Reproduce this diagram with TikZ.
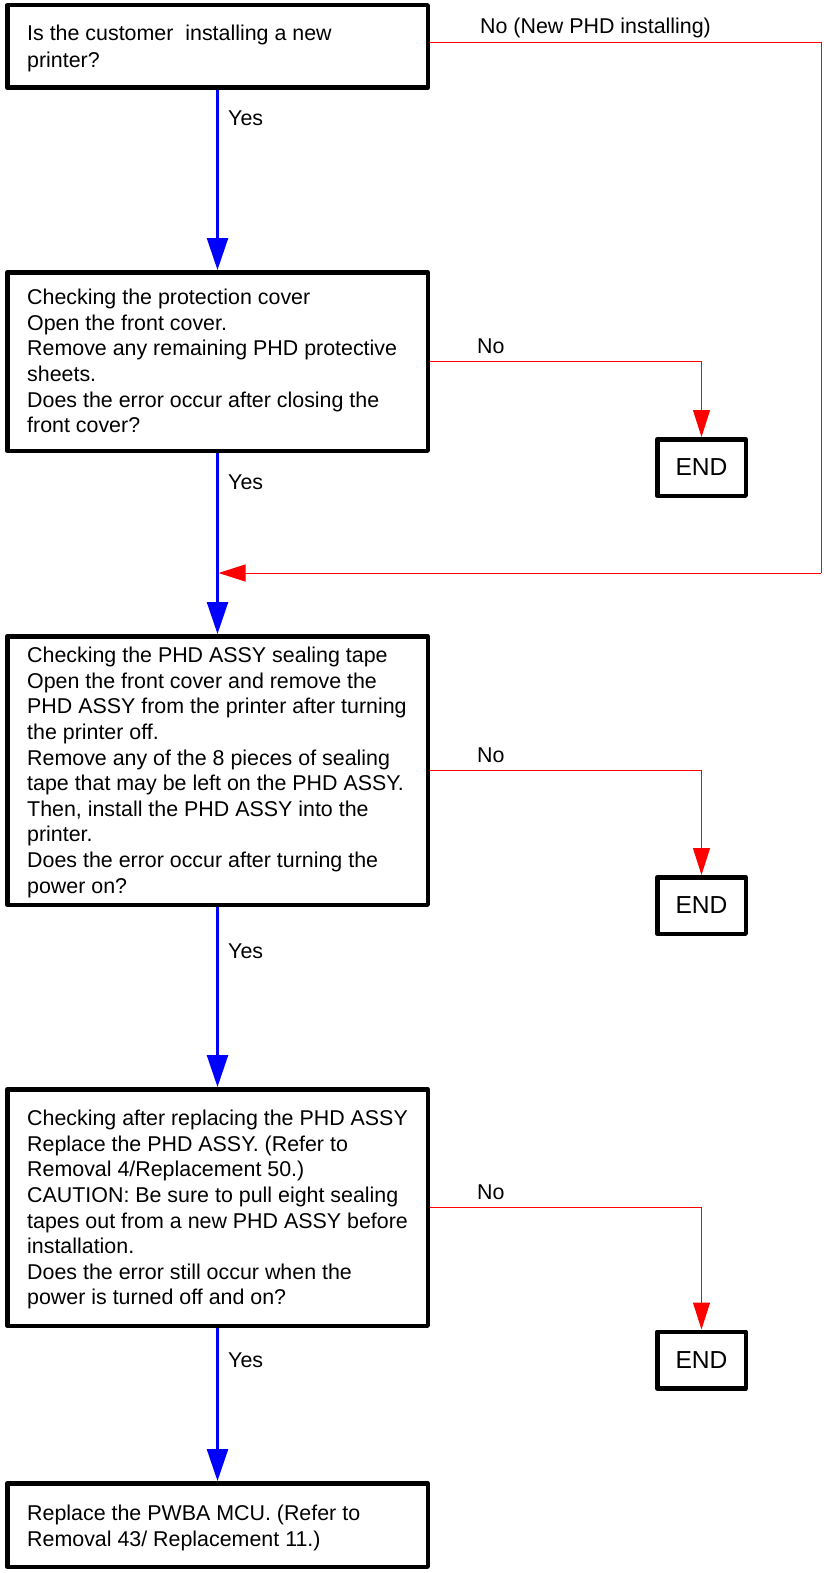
\documentclass[tikz,border=0pt]{standalone}
\usepackage{fontspec}
\setmainfont{Liberation Sans}
\usetikzlibrary{arrows.meta}
\begin{document}
\begin{tikzpicture}[x=1pt,y=-1pt,
  box/.style={draw=black,line width=4.5pt,line join=round,minimum width=420.5pt,inner sep=0pt,fill=white},
  endbox/.style={draw=black,line width=4.5pt,line join=round,minimum width=88.5pt,minimum height=56.5pt,inner sep=0pt,font=\fontsize{24.6}{28}\selectfont},
  txt/.style={anchor=north west,inner sep=0pt,align=left,font=\fontsize{21.4}{25.6}\selectfont},
  lbl/.style={anchor=west,inner sep=0pt,font=\fontsize{21.4}{25.6}\selectfont},
  yesarrow/.style={draw=blue,line width=2.5pt,-{Triangle[length=32pt,width=21pt]}},
  noarrow/.style={draw=red,line width=1pt,-{Triangle[length=27pt,width=17pt]}},
  noline/.style={draw=red,line width=1pt}]
\useasboundingbox (0,0) rectangle (823,1573);
% boxes
\node[box,minimum height=82.5pt] (b1) at (217.5,46.5) {};
\node[box,minimum height=178.5pt] (b2) at (217.5,361.5) {};
\node[box,minimum height=268.5pt] (b3) at (217.5,770.5) {};
\node[box,minimum height=236.5pt] (b4) at (217.5,1207.5) {};
\node[box,minimum height=83.5pt] (b5) at (217.5,1525) {};
\node[endbox] (e1) at (701.5,467.5) {END};
\node[endbox] (e2) at (701.5,905.5) {END};
\node[endbox] (e3) at (701.5,1360) {END};
% texts
\node[txt,font=\fontsize{21.4}{27}\selectfont] (t1) at (27,25) {Is the customer\ \ installing a new\\printer?};
\node[txt] (t2) at (27,289) {Checking the protection cover\\Open the front cover.\\Remove any remaining PHD protective\\sheets.\\Does the error occur after closing the\\front cover?};
\node[txt] (t3) at (27,647) {Checking the PHD ASSY sealing tape\\Open the front cover and remove the\\PHD ASSY from the printer after turning\\the printer off.\\Remove any of the 8 pieces of sealing\\tape that may be left on the PHD ASSY.\\Then, install the PHD ASSY into the\\printer.\\Does the error occur after turning the\\power on?};
\node[txt] (t4) at (27,1110) {Checking after replacing the PHD ASSY\\Replace the PHD ASSY. (Refer to\\Removal 4/Replacement 50.)\\CAUTION: Be sure to pull eight sealing\\tapes out from a new PHD ASSY before\\installation.\\Does the error still occur when the\\power is turned off and on?};
\node[txt] (t5) at (27,1505) {Replace the PWBA MCU. (Refer to\\Removal 43/ Replacement 11.)};
% labels
\node[lbl] (y1) at (228,118) {Yes};
\node[lbl] (y2) at (228,482) {Yes};
\node[lbl] (y3) at (228,951) {Yes};
\node[lbl] (y4) at (228,1360) {Yes};
\node[lbl] (n0) at (480,28) {No (New PHD installing)};
\node[lbl] (n1) at (477,346) {No};
\node[lbl] (n2) at (477,755) {No};
\node[lbl] (n3) at (477,1192) {No};
% connectors
\coordinate (r1) at (821,43);
\coordinate (r2) at (821,573);
\coordinate (m) at (218.5,573);
\coordinate (s1) at (b1.east |- r1);
\draw[noline] (s1) -- (r1) -- (r2);
\draw[noarrow] (r2) -- (m);
\draw[yesarrow] (b1) -- (b2);
\draw[yesarrow] (b2) -- (b3);
\draw[yesarrow] (b3) -- (b4);
\draw[yesarrow] (b4) -- (b5);
\draw[noarrow] (b2.east) -| (e1.north);
\draw[noarrow] (b3.east) -| (e2.north);
\draw[noarrow] (b4.east) -| (e3.north);
\end{tikzpicture}
\end{document}
